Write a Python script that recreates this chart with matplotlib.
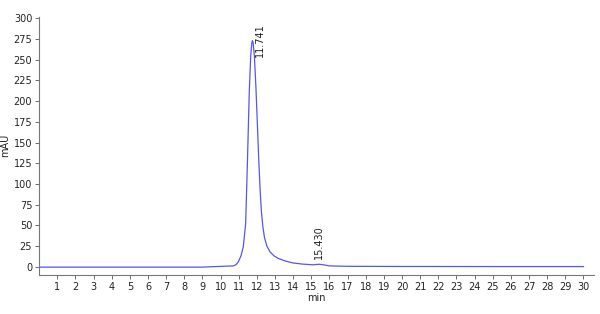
import matplotlib
matplotlib.use("Agg")
import matplotlib.pyplot as plt

# Chromatogram trace
time_min = [0, 9.0, 9.5, 10.0, 10.5, 10.7, 10.85, 10.98, 11.12, 11.25, 11.38, 11.47,
            11.58, 11.66, 11.72, 11.75, 11.79, 11.86, 11.95, 12.03, 12.11, 12.18, 12.25,
            12.33, 12.42, 12.55, 12.72, 12.95, 13.18, 13.55, 14.0, 14.5, 15.1, 15.43, 15.7,
            16.0, 17.0, 20.0, 25.0, 30.0]
signal_mau = [-0.5, -0.5, 0.0, 0.4, 0.8, 1.0, 2.5, 6, 13, 24, 52, 120,
              211, 255, 270, 273, 271, 255, 215, 170, 125, 92, 66,
              48, 35, 25, 18, 13, 10, 7, 4.5, 3.2, 2.3, 3.0, 2.2,
              1.0, 0.5, 0.3, 0.2, 0.2]

peak_times = [11.741, 15.430]
peak_labels = ["11.741", "15.430"]
label_x = [12.15, 15.43]
label_y = [253, 9]

x_ticks = list(range(1, 31))
y_ticks = list(range(0, 301, 25))

fig = plt.figure(figsize=(6, 3.14), dpi=100)
ax = fig.add_axes([0.0653, 0.1242, 0.9247, 0.8226])
ax.plot(time_min, signal_mau, color="#5555f5", lw=0.9)

for lx, ly, lab in zip(label_x, label_y, peak_labels):
    ax.text(lx, ly, lab, rotation=90, ha="center", va="bottom", fontsize=7, color="#222222")

ax.set_xlim(0, 30.58)
ax.set_ylim(-10, 302)
ax.set_xticks(x_ticks)
ax.set_yticks(y_ticks)
ax.tick_params(labelsize=7, length=3, width=0.6, color="#555555", labelcolor="#222222", pad=2)
for s in ["top", "right"]:
    ax.spines[s].set_visible(False)
for s in ["left", "bottom"]:
    ax.spines[s].set_color("#777777")
    ax.spines[s].set_linewidth(0.8)
ax.set_xlabel("min", fontsize=7, labelpad=1, color="#222222")
ax.set_ylabel("mAU", fontsize=7, color="#222222")
ax.yaxis.set_label_coords(-0.052, 0.5)

fig.savefig("out.png", dpi=100)
